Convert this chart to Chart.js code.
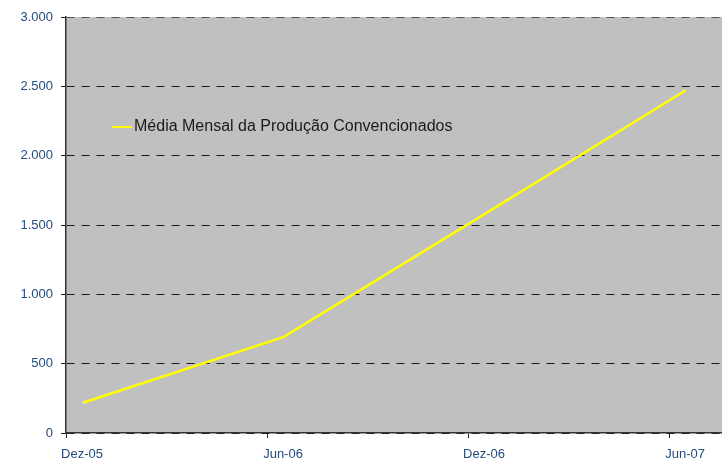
<!DOCTYPE html>
<html>
<head>
<meta charset="utf-8">
<script src="https://cdn.jsdelivr.net/npm/chart.js@4.4.0/dist/chart.umd.min.js"></script>
<style>
    html, body { margin: 0; padding: 0; background: #fff; }
    #wrap { width: 722px; height: 461px; }
</style>
</head>
<body>
<div id="wrap"><canvas id="producaochart"></canvas></div>
<script>
// tick labels on the x axis (one every 6 months)
const periodos = ['Dez-05', 'Jun-06', 'Dez-06', 'Jun-07'];
// month position of each point (middle of the month)
const meses = [0.5, 6.5, 12.5, 18.5];
const producao = [218, 693, 1580, 2472];
const serie_nome = 'Média Mensal da Produção Convencionados';

const eixo_cor = '#244c7c';

function milhar(v) {
    return String(v).replace(/\B(?=(\d{3})+(?!\d))/g, '.');
}

// gray plot background
const fundo = {
    id: 'fundo',
    beforeDraw(chart) {
        const { ctx, chartArea } = chart;
        ctx.save();
        ctx.fillStyle = '#c0c0c0';
        ctx.fillRect(chartArea.left, chartArea.top, chartArea.right - chartArea.left, chartArea.bottom - chartArea.top);
        ctx.restore();
    }
};

// legend floating inside the plot
const legenda = {
    id: 'legenda',
    afterDraw(chart) {
        const { ctx, chartArea } = chart;
        const ds = chart.data.datasets[0];
        const x = chartArea.left + 46;
        const y = chartArea.top + 110;
        ctx.save();
        ctx.strokeStyle = ds.borderColor;
        ctx.lineWidth = 2;
        ctx.beginPath();
        ctx.moveTo(x, y);
        ctx.lineTo(x + 20, y);
        ctx.stroke();
        ctx.fillStyle = '#1a1a1a';
        ctx.font = '16px "Liberation Sans", Arial, sans-serif';
        ctx.textBaseline = 'middle';
        ctx.fillText(ds.label, x + 22, y);
        ctx.restore();
    }
};

const pontos = meses.map((m, i) => ({ x: m, y: producao[i] }));

const config = {
    type: 'line',
    data: {
        datasets: [
            {
                label: serie_nome,
                data: pontos,
                borderColor: '#ffff00',
                borderWidth: 2.5,
                pointRadius: 0,
                tension: 0,
                fill: false
            }
        ]
    },
    options: {
        responsive: true,
        maintainAspectRatio: false,
        animation: false,
        layout: { padding: { top: 17, right: 0, left: 0, bottom: 0 } },
        plugins: {
            legend: { display: false },
            tooltip: { enabled: false }
        },
        scales: {
            x: {
                type: 'linear',
                min: 0,
                max: 19.58,
                afterFit: function (scale) { scale.height = 28; },
                grid: {
                    drawOnChartArea: false,
                    drawTicks: true,
                    tickLength: 5,
                    tickColor: '#222',
                    tickBorderDash: []
                },
                border: { color: '#333', width: 1.5 },
                ticks: {
                    stepSize: 6,
                    includeBounds: false,
                    autoSkip: false,
                    maxRotation: 0,
                    labelOffset: 16,
                    padding: 9,
                    color: eixo_cor,
                    font: { family: '"Liberation Sans", Arial, sans-serif', size: 13 },
                    callback: function (v) { return periodos[Math.round(v / 6)]; }
                }
            },
            y: {
                min: 0,
                max: 3000,
                afterFit: function (scale) { scale.width = 66; },
                grid: {
                    color: function (c) { return c.tick.value === 3000 ? '#555' : '#1a1a1a'; },
                    lineWidth: 1,
                    drawTicks: true,
                    tickLength: 5,
                    tickColor: '#222',
                    tickBorderDash: []
                },
                border: { color: '#333', width: 1.5, dash: [8, 7] },
                ticks: {
                    stepSize: 500,
                    padding: 8,
                    color: eixo_cor,
                    font: { family: '"Liberation Sans", Arial, sans-serif', size: 13 },
                    callback: function (v) { return milhar(v); }
                }
            }
        }
    },
    plugins: [fundo, legenda]
};

new Chart(document.getElementById('producaochart'), config);
</script>
</body>
</html>
